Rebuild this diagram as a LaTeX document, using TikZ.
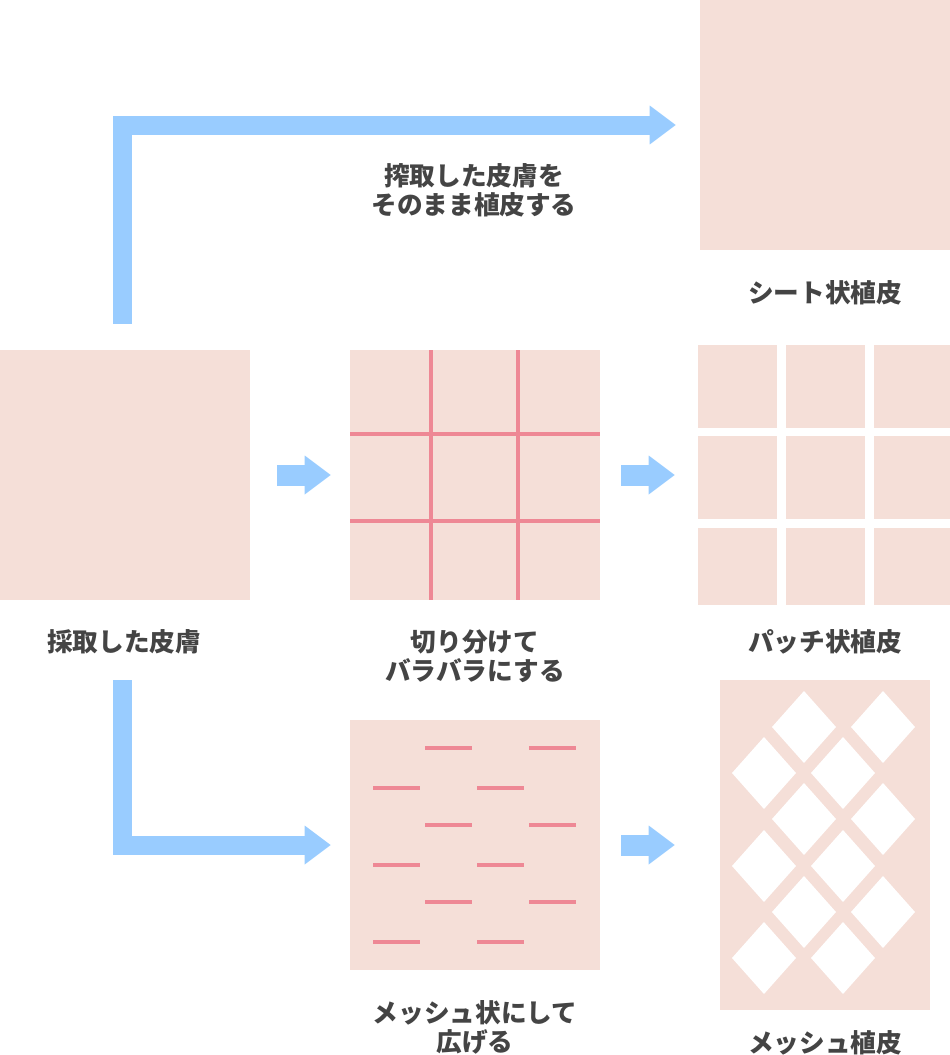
\documentclass[tikz,border=0pt]{standalone}
\usepackage{fontspec}
\newfontfamily\jpfont{Noto Sans CJK JP}
\usetikzlibrary{arrows.meta,positioning}
\definecolor{skin}{HTML}{F5DFD8}
\definecolor{flowblue}{HTML}{99CCFF}
\definecolor{cutred}{HTML}{EE8895}
\definecolor{labelgray}{HTML}{444444}
\tikzset{
  skinbox/.style={fill=skin, inner sep=0pt, minimum size=5cm},
  flow/.style={draw=flowblue, line width=0.38cm, line join=miter,
    -{Triangle[length=0.52cm,width=0.78cm,line width=0pt]}},
  flowshort/.style={flow, line width=0.42cm},
  cutline/.style={draw=cutred, line width=0.062cm},
  caption/.style={text=labelgray, align=center,
    font=\jpfont\bfseries\fontsize{14.6pt}{16.5pt}\selectfont},
}
\begin{document}
\begin{tikzpicture}[x=0.02cm,y=-0.02cm]
  \useasboundingbox (0,0) rectangle (950,1055);
  % skin pieces
  \node[skinbox] (harvest) at (125,475) {};
  \node[skinbox] (cut) at (475,475) {};
  \node[skinbox] (sheet) at (825,125) {};
  \node[skinbox] (meshcut) at (475,845) {};
  \node[skinbox, minimum width=4.2cm, minimum height=6.6cm] (graft) at (825,845) {};
  \node[inner sep=0pt, minimum width=5.04cm, minimum height=5.2cm] (patch) at (824,475) {};
  \foreach \xa/\xb in {698/777,786/865,874/950}
    \foreach \ya/\yb in {345/428,436/519,528/605}
      \fill[skin] (\xa,\ya) rectangle (\xb,\yb);
  % cuts
  \draw[cutline] (431,350) -- (431,600) (518,350) -- (518,600);
  \draw[cutline] (350,434) -- (600,434) (350,521) -- (600,521);
  \foreach \y in {748,825,902}
    \foreach \x in {425,529}
      \draw[cutline] (\x,\y) -- ++(47,0);
  \foreach \y in {788,865,942}
    \foreach \x in {373,477}
      \draw[cutline] (\x,\y) -- ++(47,0);
  \foreach \y/\xa/\xb in {727/804/883,773/764/843,819/804/883,866/764/843,912/804/883,958/764/843}
    \foreach \x in {\xa,\xb}
      \fill[white] (\x,\y) ++(0,-36) -- ++(32,36) -- ++(-32,36) -- ++(-32,-36) -- cycle;
  % arrows
  \draw[flow, shorten <=0.52cm, shorten >=0.48cm] ([xshift=-0.05cm]harvest.north) |- (sheet.west);
  \draw[flow, shorten <=1.6cm, shorten >=0.38cm] ([xshift=-0.05cm]harvest.south) |- (meshcut.west);
  \draw[flowshort, shorten <=0.54cm, shorten >=0.38cm] (harvest.east) -- (cut.west);
  \draw[flowshort, shorten <=0.42cm, shorten >=0.46cm] (cut.east) -- (patch.west);
  \draw[flowshort, shorten <=0.42cm, shorten >=0.9cm] (meshcut.east) -- (graft.west);
  % labels
  \node[caption] (directnote) at (474,190) {搾取した皮膚を\\そのまま植皮する};
  \node[caption] (sheetlabel) at (825,293) {シート状植皮};
  \node[caption] (harvestlabel) at (124,642) {採取した皮膚};
  \node[caption] (cutlabel) at (475,656) {切り分けて\\バラバラにする};
  \node[caption] (patchlabel) at (825,642) {パッチ状植皮};
  \node[caption] (meshcutlabel) at (475,1027) {メッシュ状にして\\広げる};
  \node[caption] (graftlabel) at (825,1043) {メッシュ植皮};
\end{tikzpicture}
\end{document}
